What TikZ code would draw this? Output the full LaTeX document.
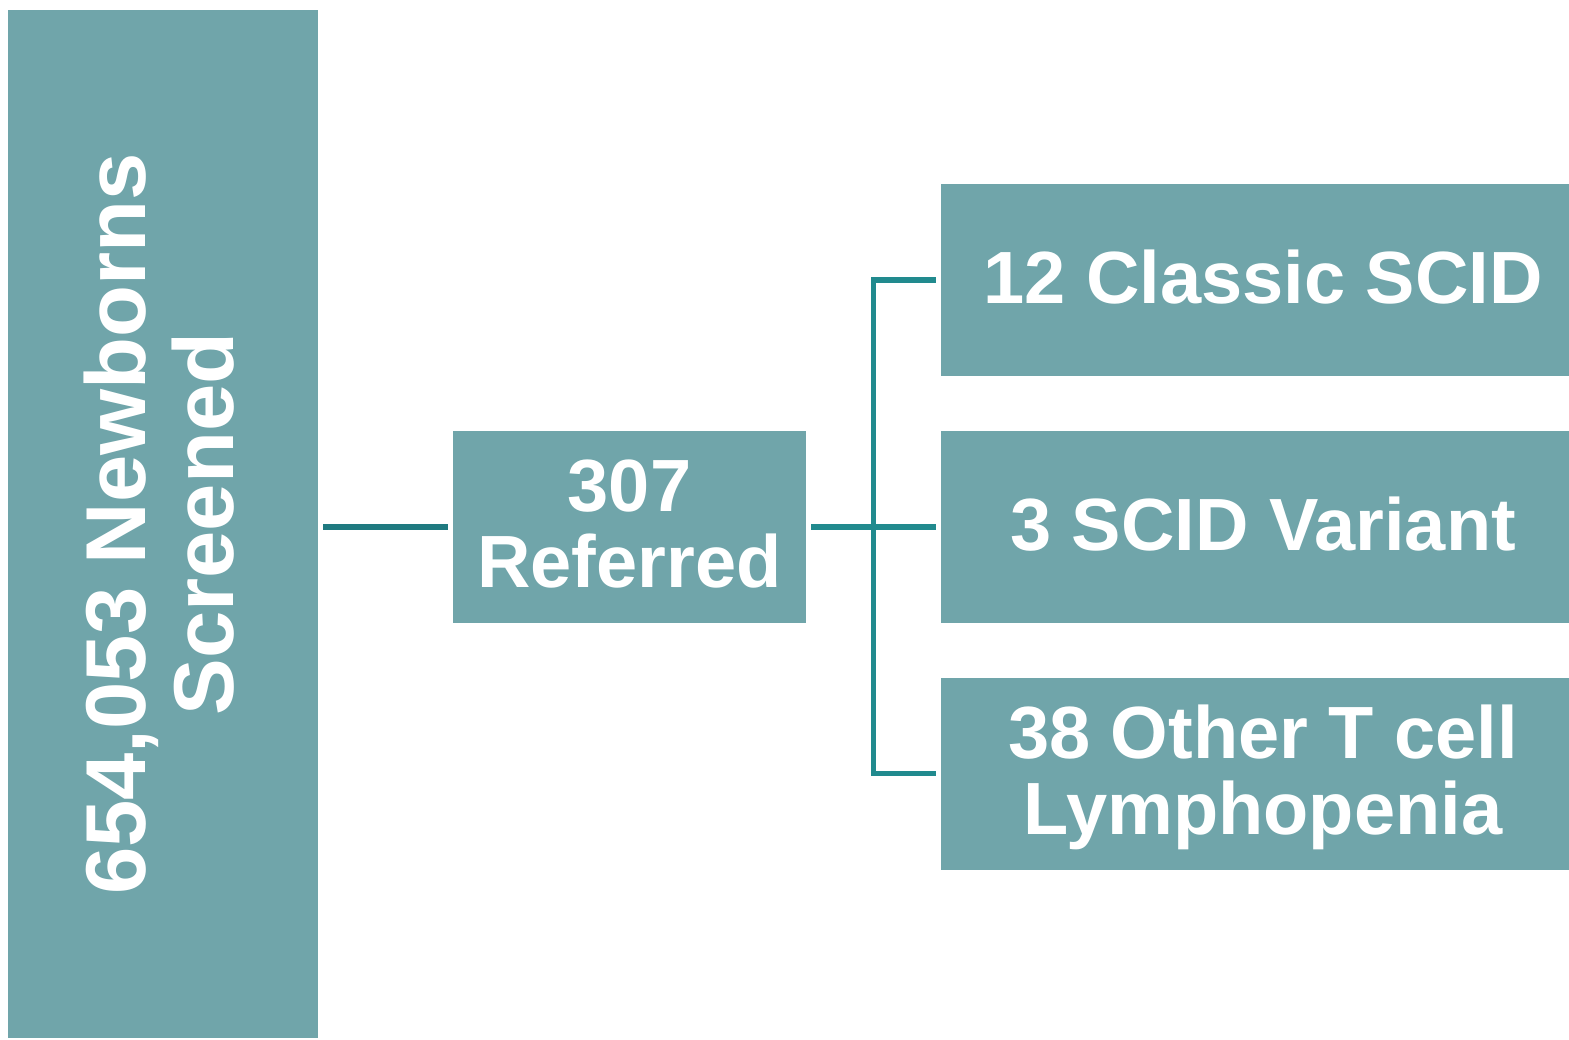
\documentclass[tikz,border=0pt]{standalone}
\usepackage{fontspec}
\setmainfont{Liberation Sans}
\usetikzlibrary{%
  calc,%
  positioning%
}

\definecolor{boxteal}{RGB}{112,165,170}
\definecolor{linkteal}{RGB}{31,122,128}
\definecolor{forkteal}{RGB}{33,138,142}

\tikzset{
  tealbox/.style={fill=boxteal, draw=none, inner sep=0pt, text=white,
    align=center, font=\bfseries\fontsize{37}{38}\selectfont},
  outcome/.style={tealbox, minimum width=322pt, minimum height=96pt,
    text depth=3.5pt},
  link/.style={draw=linkteal, line width=3pt, shorten <=2.5pt, shorten >=2.5pt},
  forklink/.style={link, draw=forkteal, line width=2.8pt, line join=miter}
}

\begin{document}
\begin{tikzpicture}[x=0.5pt, y=-0.5pt]
  \useasboundingbox (0,0) rectangle (1569,1039);

  % screened newborns
  \node[tealbox, rotate=90, minimum width=514pt, minimum height=155pt,
    text depth=4pt, font=\bfseries\fontsize{42.5}{44}\selectfont]
    (screened) at (163,524) {654,053 Newborns\\Screened};

  % referred
  \node[tealbox, minimum width=176.5pt, minimum height=96pt, text depth=3pt]
    (referred) at (629.5,527) {307\\Referred};

  % outcomes
  \node[outcome] (classic) at (1263,280) {12 Classic SCID};
  \node[outcome] (variant) at (1263,527) {3 SCID Variant};
  \node[outcome] (other)   at (1263,773.5) {38 Other T cell\\Lymphopenia};

  \coordinate (fork) at ($(referred.east)!0.5!(variant.west)$);

  \draw[link] (screened.south |- referred.west) -- (referred.west);
  \draw[forklink] (referred.east) -- (variant.west);
  \draw[forklink] (classic.west) -| (fork) |- (other.west);

\end{tikzpicture}
\end{document}
